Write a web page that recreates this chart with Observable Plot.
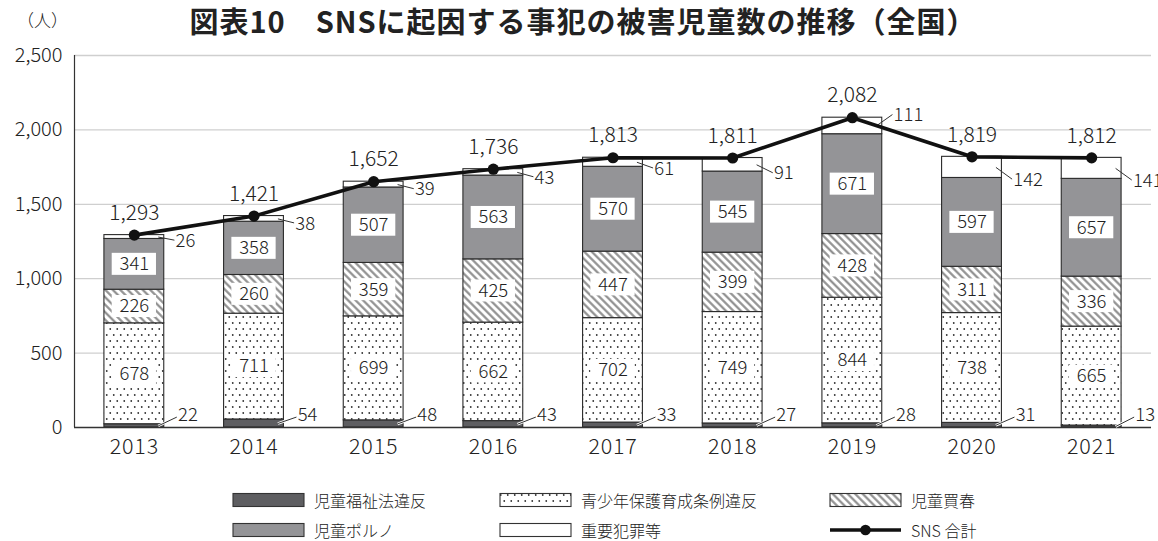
<!DOCTYPE html>
<html>
<head>
<meta charset="utf-8">
<script src="https://cdn.jsdelivr.net/npm/d3@7"></script>
<script src="https://cdn.jsdelivr.net/npm/@observablehq/plot@0.6"></script>
<style>
  html, body { margin: 0; padding: 0; background: #fff; }
  body { font-family: 'Noto Sans CJK JP', 'Noto Sans', sans-serif; color: #222; font-weight: 300; }
  #wrap { position: relative; width: 1158px; height: 541px; overflow: hidden; }
  #header { position: relative; width: 1158px; height: 44px; }
  #title { position: absolute; left: 583px; transform: translateX(-50%); top: 5px; font-size: 29px; font-weight: 700; line-height: 1.1; color: #222; letter-spacing: 1px; white-space: nowrap; }
  #unit { position: absolute; left: 17px; top: 11px; font-size: 17px; line-height: 1.1; color: #222; }
  #chart svg { display: block; font-weight: 300; }
  #legend { display: grid; grid-template-columns: 267px 330px 230px; grid-auto-rows: 30px; padding-left: 232px; padding-top: 15px; font-size: 16px; color: #222; }
  .item { display: flex; align-items: center; }
  .item svg { display: block; margin-right: 8px; }
</style>
</head>
<body>
<svg width="0" height="0" style="position:absolute">
  <defs>
    <pattern id="dots" patternUnits="userSpaceOnUse" width="7" height="12">
      <rect width="7" height="12" fill="#fff"/>
      <circle cx="1.75" cy="3" r="0.9" fill="#333"/>
      <circle cx="5.25" cy="9" r="0.9" fill="#333"/>
    </pattern>
    <pattern id="hatch" patternUnits="userSpaceOnUse" width="5.3" height="5.3" patternTransform="rotate(-45)">
      <rect width="5.3" height="5.3" fill="#fff"/>
      <line x1="1.3" y1="0" x2="1.3" y2="5.3" stroke="#8a8a8a" stroke-width="2.1"/>
    </pattern>
  </defs>
</svg>
<div id="wrap">
  <div id="header">
    <div id="title">図表10　SNSに起因する事犯の被害児童数の推移（全国）</div>
    <div id="unit">（人）</div>
  </div>
  <div id="chart"></div>
  <div id="legend"></div>
</div>
<script>
// ---- data ----
const years = [2013, 2014, 2015, 2016, 2017, 2018, 2019, 2020, 2021];
const cats = ["児童福祉法違反", "青少年保護育成条例違反", "児童買春", "児童ポルノ", "重要犯罪等"];
const fukushi   = [22, 54, 48, 43, 33, 27, 28, 31, 13];
const seishonen = [678, 711, 699, 662, 702, 749, 844, 738, 665];
const baishun   = [226, 260, 359, 425, 447, 399, 428, 311, 336];
const porno     = [341, 358, 507, 563, 570, 545, 671, 597, 657];
const juyo      = [26, 38, 39, 43, 61, 91, 111, 142, 141];
const totals    = [1293, 1421, 1652, 1736, 1813, 1811, 2082, 1819, 1812];
const yTicks    = [0, 500, 1000, 1500, 2000, 2500];
const lineLabel = "SNS 合計";

// ---- styles ----
const fills = ["#5e5e61", "url(#dots)", "url(#hatch)", "#949497", "#ffffff"];
const FONT = "'Noto Sans CJK JP', 'Noto Sans', sans-serif";

// ---- derived tables ----
const seriesList = [fukushi, seishonen, baishun, porno, juyo];
const segs = [];
years.forEach((yr, i) => {
  let acc = 0;
  seriesList.forEach((s, k) => {
    segs.push({year: yr, i, cat: cats[k], k, value: s[i], y1: acc, y2: acc + s[i]});
    acc += s[i];
  });
});
const innerSegs = segs.filter(d => d.k >= 1 && d.k <= 3);
const bottomSegs = segs.filter(d => d.k === 0);
const topSegs = segs.filter(d => d.k === 4);
const tot = years.map((yr, i) => ({year: yr, total: totals[i]}));

const HW = 0.25;        // half bar width (in year units)
const BOXW = 0.185;     // half label-box width
const BOXH = 74;        // half label-box height (value units)
const LX = 0.345;       // label offset to the right of bar centre

// top-label value: bottom of the white segment, lifted above the total line if they collide
function topLabelY(d) {
  const next = d.i + 1 < totals.length ? totals[d.i + 1] : totals[d.i];
  const lineAt = totals[d.i] + LX * (next - totals[d.i]);
  return Math.abs(d.y1 - lineAt) < 40 ? lineAt + 120 : d.y1;
}

const chart = Plot.plot({
  width: 1158,
  height: 426,
  marginTop: 11,
  marginBottom: 43,
  marginLeft: 74,
  marginRight: 7,
  x: {type: "linear", domain: [2012.5, 2021.5], ticks: years, tickFormat: d => String(d), tickSize: 0, tickPadding: 11, label: null},
  y: {domain: [0, 2500], ticks: yTicks, tickFormat: d3.format(","), tickSize: 0, tickPadding: 12, label: null},
  color: {domain: cats, range: fills},
  style: {fontFamily: FONT, fontSize: "20px", fontWeight: 300, color: "#222", background: "transparent", overflow: "visible"},
  marks: [
    Plot.ruleY(yTicks.filter(d => d > 0), {stroke: "#cfcfcf", strokeWidth: 1.3}),
    Plot.rect(segs, {x1: d => d.year - HW, x2: d => d.year + HW, y1: "y1", y2: "y2", fill: "cat", stroke: "#2b2b2b", strokeWidth: 1.1}),
    Plot.ruleX([2012.5], {y1: 0, y2: 2500, stroke: "#333", strokeWidth: 1.2}),
    Plot.ruleY([0], {stroke: "#333", strokeWidth: 1.3}),
    // label boxes inside bars
    Plot.rect(innerSegs, {x1: d => d.year - BOXW, x2: d => d.year + BOXW, y1: d => (d.y1 + d.y2) / 2 - BOXH, y2: d => (d.y1 + d.y2) / 2 + BOXH, fill: "#fff"}),
    Plot.text(innerSegs, {x: "year", y: d => (d.y1 + d.y2) / 2, text: d => String(d.value), fontSize: 18.5, fill: "#222"}),
    // leaders for small segments
    Plot.link(bottomSegs, {x1: d => d.year + 0.2, y1: d => d.y2 / 2, x2: d => d.year + 0.355, y2: 70, stroke: "#fff", strokeWidth: 2.6}),
    Plot.link(bottomSegs, {x1: d => d.year + 0.2, y1: d => d.y2 / 2, x2: d => d.year + 0.355, y2: 70, stroke: "#333", strokeWidth: 1}),
    Plot.text(bottomSegs, {x: d => d.year + 0.365, y: 86, text: d => String(d.value), textAnchor: "start", fontSize: 18.5, fill: "#222"}),
    Plot.link(topSegs, {x1: d => d.year + 0.2, y1: d => (d.y1 + d.y2) / 2, x2: d => d.year + LX - 0.01, y2: d => topLabelY(d) - 8, stroke: "#333", strokeWidth: 1}),
    // total line
    Plot.line(tot, {x: "year", y: "total", stroke: "#111", strokeWidth: 3.6}),
    Plot.dot(tot, {x: "year", y: "total", r: 5.6, fill: "#111", stroke: "none"}),
    Plot.text(topSegs, {x: d => d.year + LX, y: topLabelY, dy: 2, text: d => String(d.value), textAnchor: "start", fontSize: 18.5, fill: "#222"}),
    Plot.text(tot, {x: "year", y: "total", dy: -22, text: d => d3.format(",")(d.total), fontSize: 21, fill: "#222", letterSpacing: "0.4px"})
  ]
});
// slightly larger x-axis year labels, as in the reference
chart.querySelectorAll('[aria-label="x-axis tick label"], [aria-label="x-axis"]').forEach(g => {
  g.setAttribute("font-size", 21.5);
  g.style.letterSpacing = "0.8px";
});
document.getElementById("chart").appendChild(chart);

// ---- legend ----
const legend = document.getElementById("legend");
const items = cats.map((c, i) => ({label: c, fill: fills[i]})).concat([{label: lineLabel, line: true}]);
items.forEach(it => {
  const div = document.createElement("div");
  div.className = "item";
  const ns = "http://www.w3.org/2000/svg";
  const s = document.createElementNS(ns, "svg");
  s.setAttribute("width", 74); s.setAttribute("height", 16);
  if (it.line) {
    const l = document.createElementNS(ns, "line");
    l.setAttribute("x1", 1); l.setAttribute("x2", 72); l.setAttribute("y1", 8); l.setAttribute("y2", 8);
    l.setAttribute("stroke", "#111"); l.setAttribute("stroke-width", 3.4);
    const c = document.createElementNS(ns, "circle");
    c.setAttribute("cx", 36.5); c.setAttribute("cy", 8); c.setAttribute("r", 5.3); c.setAttribute("fill", "#111");
    s.appendChild(l); s.appendChild(c);
  } else {
    const r = document.createElementNS(ns, "rect");
    r.setAttribute("x", 1); r.setAttribute("y", 1.5); r.setAttribute("width", 71); r.setAttribute("height", 13);
    r.setAttribute("fill", it.fill); r.setAttribute("stroke", "#333"); r.setAttribute("stroke-width", 1.1);
    s.appendChild(r);
  }
  const t = document.createElement("span");
  t.textContent = it.label;
  div.appendChild(s); div.appendChild(t);
  legend.appendChild(div);
});
</script>
</body>
</html>
